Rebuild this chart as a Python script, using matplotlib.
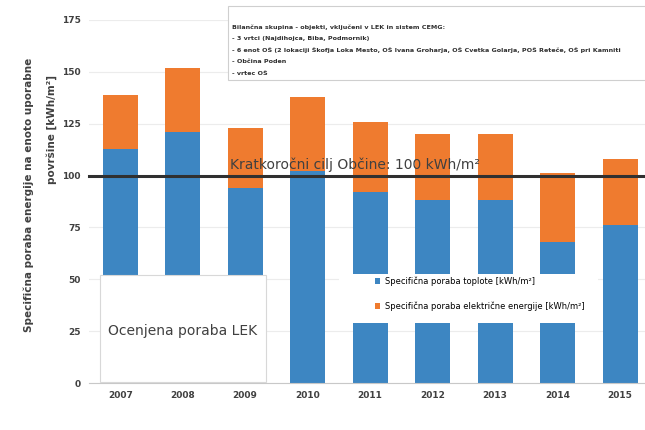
import matplotlib.pyplot as plt
from matplotlib.patches import Rectangle

# Data
years = ['2007', '2008', '2009', '2010', '2011', '2012', '2013', '2014', '2015']
heat = [113, 121, 94, 102, 92, 88, 88, 68, 76]
electricity = [26, 31, 29, 36, 34, 32, 32, 33, 32]
target = 100
y_ticks = [0, 25, 50, 75, 100, 125, 150, 175]
group_lines = [
    'Bilančna skupina - objekti, vključeni v LEK in sistem CEMG:',
    '- 3 vrtci (Najdihojca, Biba, Podmornik)',
    '- 6 enot OŠ (2 lokaciji Škofja Loka Mesto, OŠ Ivana Groharja, OŠ Cvetka Golarja, POŠ Reteče, OŠ pri Kamniti',
    '- Občina Poden',
    '- vrtec OŠ',
]

blue = '#3d86c2'
orange = '#ef7b2f'

fig = plt.figure(figsize=(6.45, 4.3), dpi=100)
ax = fig.add_axes([0.138, 0.109, 0.862, 0.845])

x = range(len(years))
ax.bar(x, heat, width=0.56, color=blue, zorder=2,
       label='Specifična poraba toplote [kWh/m²]')
ax.bar(x, electricity, bottom=heat, width=0.56, color=orange, zorder=2,
       label='Specifična poraba električne energije [kWh/m²]')

ax.set_xlim(-0.5, 8.4)
ax.set_ylim(0, 175)
ax.set_yticks(y_ticks)
ax.set_xticks(list(x))
ax.set_xticklabels(years)
ax.tick_params(axis='both', length=0, labelsize=6.5, labelcolor='#404040', pad=6)
for lbl in ax.get_xticklabels() + ax.get_yticklabels():
    lbl.set_fontweight('bold')
ax.grid(axis='y', color='#ececec', linewidth=0.8, zorder=0)
for side in ['top', 'right', 'left']:
    ax.spines[side].set_visible(False)
ax.spines['bottom'].set_color('#c8c8c8')

# y label (two lines, placed separately as in the original)
fig.text(0.045, 0.547, 'Specifična poraba energije na enoto uporabne', rotation=90,
         fontsize=7.5, color='#404040', fontweight='bold', ha='center', va='center')
fig.text(0.08, 0.70, 'površine [kWh/m²]', rotation=90,
         fontsize=7.5, color='#404040', fontweight='bold', ha='center', va='center')

# target line
ax.axhline(target, color='#303030', linewidth=2.2, zorder=4, clip_on=False)
ax.text(1.75, target + 3, 'Kratkoročni cilj Občine: 100 kWh/m²', fontsize=10,
        color='#404040', zorder=5)

# white box with estimated consumption
ax.add_patch(Rectangle((-0.33, 0.6), 2.66, 51.5, facecolor='white',
                       edgecolor='#d8d8d8', linewidth=0.8, zorder=3))
ax.text(1.0, 25, 'Ocenjena poraba LEK', fontsize=10, color='#404040',
        ha='center', va='center', zorder=4)

# legend box
ax.add_patch(Rectangle((3.5, 29), 4.15, 23.5, facecolor='white',
                       edgecolor='none', zorder=3))
leg = ax.legend(loc='upper left', bbox_to_anchor=(0.5, 0.315), frameon=False,
                fontsize=6, handlelength=0.7, handleheight=0.7,
                labelspacing=1.9, handletextpad=0.6)
leg.set_zorder(5)

# building group description box
fig.patches.append(Rectangle((0.353, 0.815), 0.66, 0.17, transform=fig.transFigure,
                             facecolor='white', edgecolor='#cfcfcf', linewidth=0.8,
                             zorder=6))
for i, line in enumerate(group_lines):
    fig.text(0.36, 0.937 - i * 0.027, line, fontsize=4.6, color='#303030',
             fontweight='bold', va='center', zorder=7)

fig.savefig('out.png', dpi=100)
